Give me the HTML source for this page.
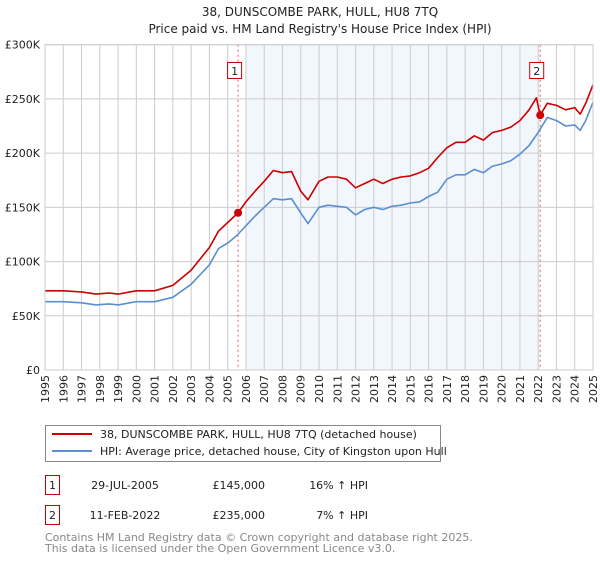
<!DOCTYPE html>
<html><head><meta charset="utf-8"><style>
body{margin:0;background:#fff;font-family:"DejaVu Sans","Liberation Sans",sans-serif;}
svg text{font-family:"DejaVu Sans","Liberation Sans",sans-serif;}
</style></head><body>
<svg id="chart" width="600" height="560" viewBox="0 0 600 560" xmlns="http://www.w3.org/2000/svg">
<text x="320" y="16" text-anchor="middle" font-size="12" fill="#222">38, DUNSCOMBE PARK, HULL, HU8 7TQ</text>
<text x="320" y="33" text-anchor="middle" font-size="12" fill="#222">Price paid vs. HM Land Registry's House Price Index (HPI)</text>
<g id="plot"></g>
<g>
<rect x="45.5" y="425.5" width="395" height="36" fill="#fff" stroke="#888"/>
<line x1="52" y1="434" x2="92" y2="434" stroke="#cc0000" stroke-width="2"/>
<text x="100" y="438" font-size="11" fill="#222">38, DUNSCOMBE PARK, HULL, HU8 7TQ (detached house)</text>
<line x1="52" y1="451" x2="92" y2="451" stroke="#5b8fd0" stroke-width="2"/>
<text x="100" y="455" font-size="11" fill="#222">HPI: Average price, detached house, City of Kingston upon Hull</text>
</g>
<g font-size="11" fill="#222">
<rect x="45.5" y="475.5" width="14" height="19" fill="#fff" stroke="#cc0000"/>
<text x="52.5" y="489" text-anchor="middle">1</text>
<text x="125" y="489" text-anchor="middle">29-JUL-2005</text>
<text x="265" y="489" text-anchor="end">£145,000</text>
<text x="368" y="489" text-anchor="end">16% ↑ HPI</text>
<rect x="45.5" y="505.5" width="14" height="19" fill="#fff" stroke="#cc0000"/>
<text x="52.5" y="519" text-anchor="middle">2</text>
<text x="125" y="519" text-anchor="middle">11-FEB-2022</text>
<text x="265" y="519" text-anchor="end">£235,000</text>
<text x="368" y="519" text-anchor="end">7% ↑ HPI</text>
</g>
<text x="45" y="541" font-size="11" fill="#888">Contains HM Land Registry data © Crown copyright and database right 2025.</text>
<text x="45" y="552" font-size="11" fill="#888">This data is licensed under the Open Government Licence v3.0.</text>
</svg>
<script>
const yTickValues=[0,50,100,150,200,250,300];
const yTickLabels=["£0","£50K","£100K","£150K","£200K","£250K","£300K"];
const years=[1995,1996,1997,1998,1999,2000,2001,2002,2003,2004,2005,2006,2007,2008,2009,2010,2011,2012,2013,2014,2015,2016,2017,2018,2019,2020,2021,2022,2023,2024,2025];
const hpiDates=[1995,1996,1997,1997.8,1998.5,1999,2000,2001,2002,2003,2004,2004.5,2005,2005.5,2006,2006.5,2007,2007.5,2008,2008.5,2009,2009.4,2010,2010.5,2011,2011.5,2012,2012.5,2013,2013.5,2014,2014.5,2015,2015.5,2016,2016.5,2017,2017.5,2018,2018.5,2019,2019.5,2020,2020.5,2021,2021.5,2022,2022.5,2023,2023.5,2024,2024.3,2024.6,2025];
const hpiValues=[63,63,62,60,61,60,63,63,67,79,97,112,117,124,133,142,150,158,157,158,145,135,150,152,151,150,143,148,150,148,151,152,154,155,160,164,176,180,180,185,182,188,190,193,199,207,219,233,230,225,226,221,230,247];
const priceDates=[1995,1996,1997,1997.8,1998.5,1999,2000,2001,2002,2003,2004,2004.5,2005,2005.57,2006,2006.5,2007,2007.5,2008,2008.5,2009,2009.4,2010,2010.5,2011,2011.5,2012,2012.5,2013,2013.5,2014,2014.5,2015,2015.5,2016,2016.5,2017,2017.5,2018,2018.5,2019,2019.5,2020,2020.5,2021,2021.5,2021.9,2022.11,2022.5,2023,2023.5,2024,2024.3,2024.6,2025];
const priceValues=[73,73,72,70,71,70,73,73,78,92,113,128,136,145,155,165,174,184,182,183,165,157,174,178,178,176,168,172,176,172,176,178,179,182,186,196,205,210,210,216,212,219,221,224,230,240,251,235,246,244,240,242,236,246,263];
const saleDates=[2005.57,2022.11];
const saleValues=[145,235];
const saleLabels=["1","2"];
const shadeRange=[2006.0,2022.11];

const X0=45,X1=593,Y0=370,Y1=44.7;
const xs=d=>X0+(d-1995)/30*(X1-X0);
const ys=v=>Y0-v/300*(Y0-Y1);
const NS="http://www.w3.org/2000/svg";
const g=document.getElementById('plot');
function mk(t,a){const e=document.createElementNS(NS,t);for(const k in a)e.setAttribute(k,a[k]);g.appendChild(e);return e;}

let e=mk('rect',{x:xs(shadeRange[0]),y:Y1,width:xs(shadeRange[1])-xs(shadeRange[0]),height:Y0-Y1,fill:'#f2f6fd'});


years.forEach(yr=>{
  const l=mk('line',{x1:xs(yr),x2:xs(yr),y1:Y1,y2:Y0,stroke:'#ccc','stroke-width':1});
  
  
  const t=mk('text',{x:0,y:0,'font-size':11,fill:'#222','text-anchor':'end',transform:`translate(${xs(yr)+4},${Y0+5}) rotate(-90)`});
  t.textContent=yr;
  
  
});
yTickValues.forEach((v,i)=>{
  const l=mk('line',{x1:X0,x2:X1,y1:ys(v),y2:ys(v),stroke:'#ccc','stroke-width':1});
  
  
  const t=mk('text',{x:X0-5,y:ys(v)+4,'font-size':11,fill:'#222','text-anchor':'end'});
  t.textContent=yTickLabels[i];
  
  
});
saleDates.forEach((d,i)=>{
  const l=mk('line',{x1:xs(d),x2:xs(d),y1:Y1,y2:Y0,stroke:'#e06060','stroke-width':1,'stroke-dasharray':'2,3'});
  
  
  const r=mk('rect',{x:xs(d)-10.5,y:62.5,width:14,height:16,fill:'#fff',stroke:'#cc0000'});
  
  
  const t=mk('text',{x:xs(d)-3.5,y:75,'font-size':11,fill:'#222','text-anchor':'middle'});
  t.textContent=saleLabels[i];
  
  
});
function line(ds,vs,color,name){
  const p=mk('polyline',{points:ds.map((d,i)=>xs(d).toFixed(1)+','+ys(vs[i]).toFixed(1)).join(' '),fill:'none',stroke:color,'stroke-width':1.6,'stroke-linejoin':'round'});
  
  
}
line(hpiDates,hpiValues,'#5b8fd0','hpi-line');
line(priceDates,priceValues,'#cc0000','price-line');
saleDates.forEach((d,i)=>{
  const c=mk('circle',{cx:xs(d),cy:ys(saleValues[i]),r:4,fill:'#cc0000'});
  
  
});
const b=mk('rect',{x:X0,y:Y1,width:X1-X0,height:Y0-Y1,fill:'none',stroke:'#ccc'});


</script>
</body></html>
